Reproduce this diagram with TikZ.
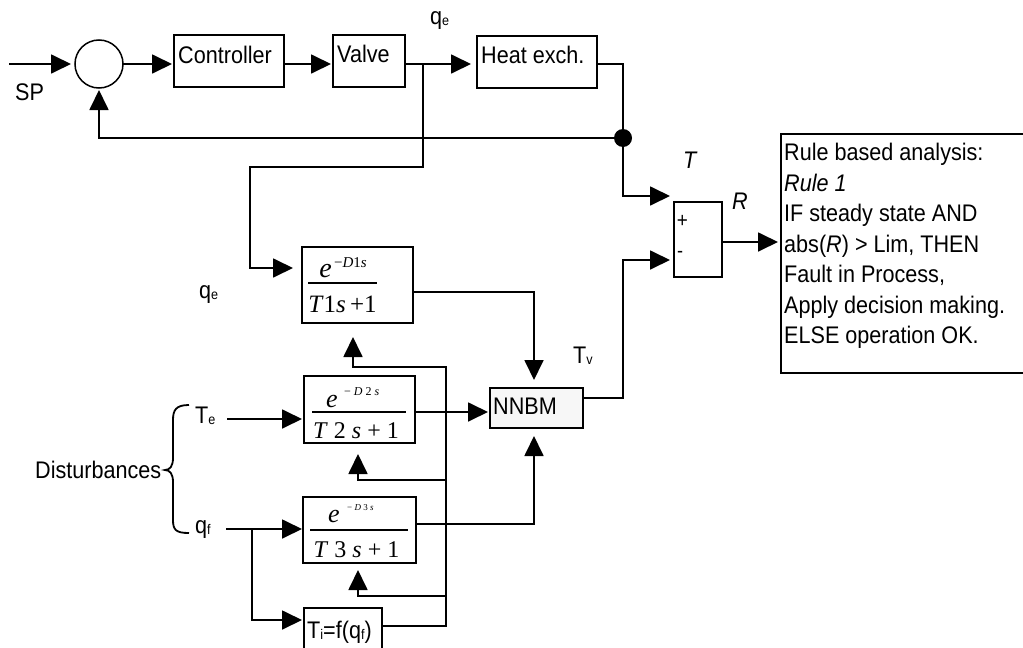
\documentclass[tikz,border=0pt]{standalone}
\usepackage{fontspec}
\setmainfont{Liberation Sans}[FakeStretch=0.9]
\newfontfamily\tms{Liberation Serif}
\usetikzlibrary{arrows.meta}
\newcommand\sbs[1]{\raisebox{-1.5pt}{\fontsize{14}{14}\selectfont #1}}
\newcommand\tmsz[1]{\tms\fontsize{#1}{#1}\selectfont}
\begin{document}
\begin{tikzpicture}[x=1pt,y=-1pt,
  blk/.style={draw, line width=1.8pt, rectangle, inner sep=0pt, outer sep=0pt},
  ln/.style={line width=1.8pt},
  arr/.style={ln, -{Triangle[length=20pt,width=19pt]}},
  lbl/.style={inner sep=0pt, font=\fontsize{24}{28}\selectfont},
  fr/.style={inner sep=0pt},
  bar/.style={line width=1.2pt}]
\useasboundingbox (0,0) rectangle (1023,648);
% blocks
\node[draw, circle, line width=1.5pt, minimum size=48pt, inner sep=0pt, outer sep=0pt] (sum) at (99,64) {};
\node[blk, minimum width=110pt, minimum height=52pt] (ctrl) at (229,61) {};
\node[blk, minimum width=72pt, minimum height=52pt] (valve) at (369,61) {};
\node[blk, minimum width=120pt, minimum height=52pt] (heat) at (537,62) {};
\node[blk, minimum width=48pt, minimum height=75pt] (sumbox) at (698,239.5) {};
\node[blk, minimum width=249pt, minimum height=239pt] (rule) at (905.5,253.5) {};
\node[blk, minimum width=111pt, minimum height=76pt] (T1) at (357.5,285) {};
\node[blk, minimum width=111pt, minimum height=67pt] (T2) at (359.5,409.5) {};
\node[blk, minimum width=113pt, minimum height=66pt] (T3) at (359.5,530) {};
\node[blk, fill=black!3, minimum width=93pt, minimum height=40pt] (NNBM) at (536.5,408) {};
\node[blk, minimum width=78pt, minimum height=52pt] (Ti) at (343,634) {};
% block texts
\node[lbl, anchor=base west] (ctrlt) at (178,63) {Controller};
\node[lbl, anchor=base west] (valvet) at (337,62) {Valve};
\node[lbl, anchor=base west] (heatt) at (481,63) {Heat exch.};
\node[lbl, anchor=base west] (nnbmt) at (493,414) {NNBM};
\node[lbl, anchor=base west] (tit) at (307,638) {T\sbs{i}=f(q\sbs{f})};
\node[inner sep=0pt, font=\fontsize{21}{21}\selectfont] (plus) at (682.5,221.5) {+};
\node[inner sep=0pt, anchor=base west, font=\fontsize{20}{20}\selectfont] (minus) at (677,257) {-};
\node[lbl, anchor=north west, align=left, font=\fontsize{24}{30.5}\selectfont] (rtxt) at (784,143)
  {Rule based analysis:\\ \textit{Rule 1}\\ IF steady state AND\\ abs(\textit{R}) > Lim, THEN\\ Fault in Process,\\ Apply decision making.\\ ELSE operation OK.};
% fractions
\node[fr, anchor=base] (t1e) at (325.5,277) {\tmsz{28}\itshape e};
\node[fr, anchor=base west] (t1x) at (334,267) {\tmsz{15}−\textit{D}1\textit{s}};
\draw[bar] (308,283) -- (377,283);
\node[fr, anchor=base] (t1d) at (342.5,312) {\tmsz{25}\textit{T}1\textit{s}\,+1};
\node[fr, anchor=base] (t2e) at (332,407) {\tmsz{26}\itshape e};
\node[fr, anchor=base west] (t2x) at (344,395) {\tmsz{12}− \textit{D} 2 \textit{s}};
\draw[bar] (312,412) -- (406,412);
\node[fr, anchor=base] (t2d) at (356,438) {\tmsz{24}\textit{T} 2 \textit{s} + 1};
\node[fr, anchor=base] (t3e) at (334,522) {\tmsz{26}\itshape e};
\node[fr, anchor=base west] (t3x) at (347,510) {\tmsz{9}− \textit{D} 3 \textit{s}};
\draw[bar] (310,530) -- (408,530);
\node[fr, anchor=base] (t3d) at (356.5,557) {\tmsz{24}\textit{T} 3 \textit{s} + 1};
% labels
\node[lbl, anchor=base west] (sp) at (15,100) {SP};
\node[lbl, anchor=base west] (qe1) at (430,24) {q\sbs{e}};
\node[lbl, anchor=base west] (qe2) at (199,298) {q\sbs{e}};
\node[lbl, anchor=base west] (te) at (195,423) {T\sbs{e}};
\node[lbl, anchor=base west] (qf) at (195,533) {q\sbs{f}};
\node[lbl, anchor=base west] (tv) at (573,363) {T\sbs{v}};
\node[lbl, anchor=base west] (tl) at (683,168) {\itshape T};
\node[lbl, anchor=base west] (rl) at (732,209) {\itshape R};
\node[lbl, anchor=base west] (dist) at (35,478) {Disturbances};
\draw[ln] (189,405) .. controls (176,405) and (173,410) .. (173,420) -- (173,458)
  .. controls (173,466) and (170,470) .. (165,470)
  .. controls (170,470) and (173,474) .. (173,482) -- (173,520)
  .. controls (173,530) and (176,533) .. (189,533);
% coordinates
\coordinate (spin) at (9,64);
\coordinate (vb) at (423,64);
\coordinate (c1) at (250,167);
\coordinate (c2) at (250,268);
\coordinate (hx) at (623,64);
\coordinate (dot) at (623,138);
\coordinate (tin) at (623,196);
\coordinate (m1) at (623,398);
\coordinate (m2) at (623,260);
\coordinate (r1) at (722,242);
\coordinate (o1) at (534,292);
\coordinate (o2) at (450,412);
\coordinate (o3) at (534,524);
\coordinate (tein) at (227,419);
\coordinate (qfin) at (226,529);
\coordinate (qb) at (252,529);
\coordinate (qb2) at (252,620);
\coordinate (f0) at (446,626);
\coordinate (f1) at (446,367);
\coordinate (f1b) at (353,367);
\coordinate (f2) at (446,480);
\coordinate (f2b) at (358,480);
\coordinate (f3) at (446,596);
\coordinate (f3b) at (358,596);
% connectors
\draw[arr, shorten >=4pt] (spin) -- (sum.west);
\draw[arr, shorten >=2pt] (sum.east) -- (sum.east -| ctrl.west);
\draw[arr, shorten >=2pt] (ctrl.east |- sum.east) -- (sum.east -| valve.west);
\draw[arr, shorten >=6pt] (vb -| valve.east) -- (vb -| heat.west);
\draw[arr, shorten >=9pt] (vb) |- (c1) -- (c2) -- (c2 -| T1.west);
\draw[arr, shorten >=4pt] (hx -| heat.east) -- (hx) -- (tin) -- (tin -| sumbox.west);
\fill (dot) circle (9pt);
\draw[arr, shorten >=2pt] (dot) -| (sum.south);
\draw[arr, shorten >=4pt] (m1 -| NNBM.east) -- (m1) -- (m2) -- (m2 -| sumbox.west);
\draw[arr, shorten >=3pt] (r1) -- (r1 -| rule.west);
\draw[arr, shorten >=8pt] (o1 -| T1.east) -- (o1) -- (o1 |- NNBM.north);
\draw[arr, shorten >=2pt] (o2 -| T2.east) -- (o2 -| NNBM.west);
\draw[arr, shorten >=8pt] (o3 -| T3.east) -- (o3) -- (o3 |- NNBM.south);
\draw[arr, shorten >=2pt] (tein) -- (tein -| T2.west);
\draw[arr, shorten >=1pt] (qfin) -- (qfin -| T3.west);
\draw[arr, shorten >=2pt] (qb) -- (qb2) -- (qb2 -| Ti.west);
\draw[arr, shorten >=14pt] (f0 -| Ti.east) -- (f0) -- (f1) -- (f1b) -- (f1b |- T1.south);
\draw[arr, shorten >=11pt] (f2) -- (f2b) -- (f2b |- T2.south);
\draw[arr, shorten >=7pt] (f3) -- (f3b) -- (f3b |- T3.south);
\end{tikzpicture}
\end{document}
